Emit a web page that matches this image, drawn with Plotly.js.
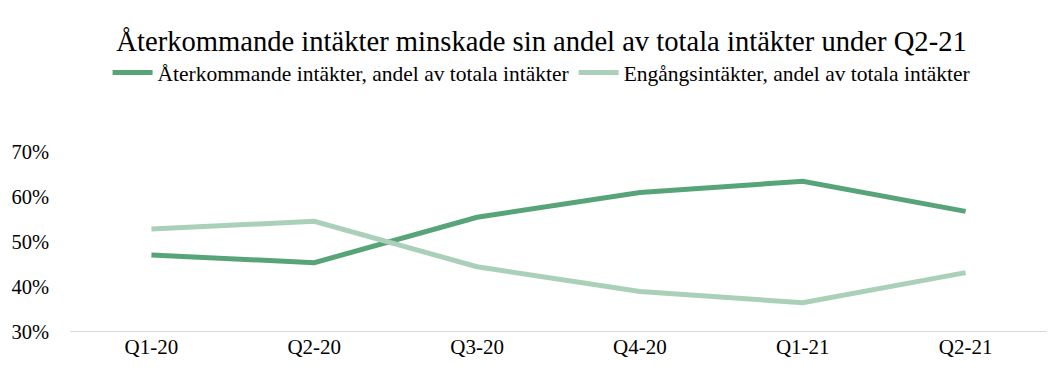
<!DOCTYPE html>
<html><head><meta charset="utf-8">
<script src="https://cdn.plot.ly/plotly-3.0.1.min.js"></script>
<style>html,body{margin:0;padding:0;background:#fff}</style>
</head><body>
<div id="chart" style="width:1064px;height:382px"></div>
<script>
const categories = ["Q1-20","Q2-20","Q3-20","Q4-20","Q1-21","Q2-21"];
const recurringShare = [0.471, 0.454, 0.555, 0.610, 0.635, 0.568];
const oneTimeShare = [0.529, 0.546, 0.445, 0.390, 0.365, 0.432];
const seriesNames = ["Återkommande intäkter, andel av totala intäkter", "Engångsintäkter, andel av totala intäkter"];
const titleText = "Återkommande intäkter minskade sin andel av totala intäkter under Q2-21";

const font = "'Liberation Serif', 'Times New Roman', serif";
const traces = [
  {x: categories, y: recurringShare, name: seriesNames[0], type: "scatter", mode: "lines",
   line: {color: "#58a479", width: 5}},
  {x: categories, y: oneTimeShare, name: seriesNames[1], type: "scatter", mode: "lines",
   line: {color: "#aad0ba", width: 5}}
];
const layout = {
  width: 1064, height: 382,
  margin: {l: 70, r: 17, t: 152, b: 50},
  paper_bgcolor: "#fff", plot_bgcolor: "#fff",
  font: {family: font, size: 21, color: "#000"},
  title: {text: titleText, x: 0.509, xanchor: "center", y: 0.892, yanchor: "middle",
          font: {family: font, size: 28.6, color: "#000"}},
  showlegend: true,
  legend: {orientation: "h", x: 0.509, xref: "container", xanchor: "center", y: 0.81, yref: "container", yanchor: "middle",
           font: {family: font, size: 21.5, color: "#000"}, traceorder: "normal", itemwidth: 40},
  xaxis: {type: "category", range: [-0.5, 5.5], showgrid: false, zeroline: false, showline: false,
          ticks: "", tickfont: {family: font, size: 21, color: "#000"}},
  yaxis: {range: [0.3, 0.7], tickvals: [0.3,0.4,0.5,0.6,0.7], tickformat: ".0%", showgrid: false,
          zeroline: false, showline: false, ticks: "", ticklabelstandoff: 20,
          tickfont: {family: font, size: 20.5, color: "#000"}},
  shapes: [{type: "line", xref: "paper", yref: "y", x0: 0, x1: 1, y0: 0.3, y1: 0.3,
            line: {color: "#d9d9d9", width: 2}, layer: "below"}]
};
Plotly.newPlot("chart", traces, layout, {displayModeBar: false});
</script>
</body></html>
